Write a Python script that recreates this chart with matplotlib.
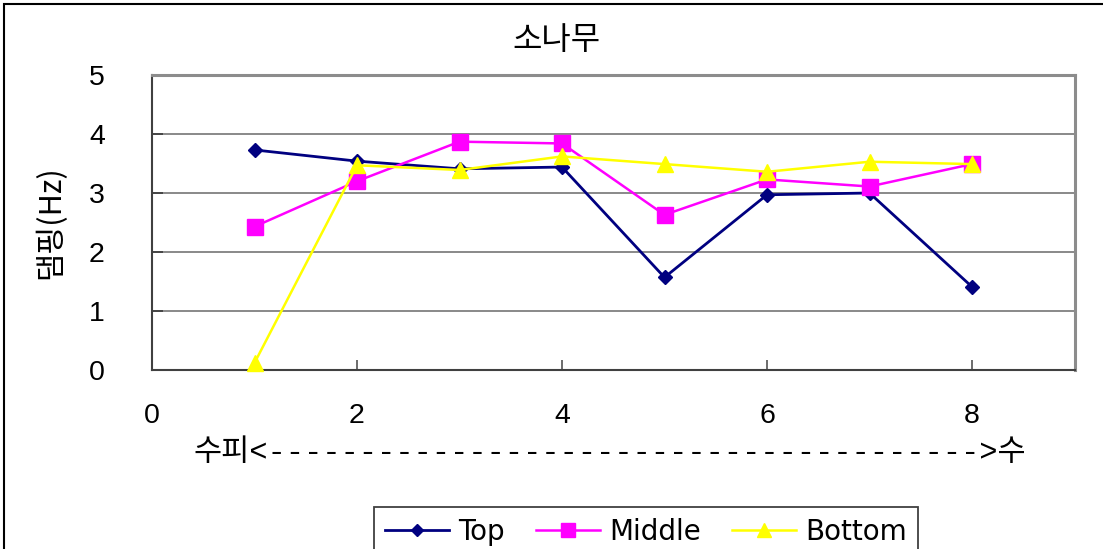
import matplotlib
matplotlib.use("Agg")
import matplotlib.pyplot as plt
from matplotlib.patches import Rectangle

plt.rcParams['font.family'] = ['Liberation Sans', 'Noto Sans CJK KR']

# Measurement positions (bark -> core) and damping values per height
positions = [1, 2, 3, 4, 5, 6, 7, 8]
top = [3.73, 3.54, 3.41, 3.44, 1.57, 2.97, 3.00, 1.41]
middle = [2.43, 3.20, 3.87, 3.84, 2.63, 3.23, 3.11, 3.49]
bottom = [0.12, 3.47, 3.39, 3.62, 3.49, 3.36, 3.53, 3.49]

series_names = ["Top", "Middle", "Bottom"]
x_ticks = [0, 2, 4, 6, 8]
y_ticks = [0, 1, 2, 3, 4, 5]

title = "소나무"
y_label = "댐핑(Hz)"
x_label = "수피<" + "-" * 39 + ">수"

W, H = 1103, 549
fig = plt.figure(figsize=(W / 100, H / 100), dpi=100)
fig.patch.set_facecolor("white")

# chart-area frame (runs off the right and bottom edges)
fig.add_artist(Rectangle((4 / W, -20 / H), 1.2, (H - 4 + 20) / H,
                         transform=fig.transFigure, fill=False,
                         edgecolor="#000000", linewidth=1.5, clip_on=False))

ax = fig.add_axes([152 / W, 1 - 370 / H, (1074.5 - 152) / W, (370 - 75) / H])
ax.set_xlim(0, 9)
ax.set_ylim(0, 5)
ax.set_xticks(x_ticks)
ax.set_yticks(y_ticks)

ax.yaxis.grid(True, color="#808080", linewidth=1.3)
ax.set_axisbelow(True)
for side in ("left", "bottom"):
    ax.spines[side].set_color("#404040")
    ax.spines[side].set_linewidth(1.5)
for side in ("top", "right"):
    ax.spines[side].set_color("#8c8c8c")
    ax.spines[side].set_linewidth(2.2)

ax.tick_params(axis="y", direction="in", length=8, width=1.3, color="#404040",
               labelsize=20.5, pad=34)
ax.tick_params(axis="x", direction="in", length=7, width=1.3, color="#606060",
               labelsize=20.5, pad=24)

l1, = ax.plot(positions, top, color="#000080", linewidth=2.0, marker="D",
              markersize=7.5, markerfacecolor="#000080", markeredgecolor="#000080",
              clip_on=False, zorder=3)
l2, = ax.plot(positions, middle, color="#FF00FF", linewidth=1.8, marker="s",
              markersize=11.5, markerfacecolor="#FF00FF", markeredgecolor="#FF00FF",
              clip_on=False, zorder=4)
l3, = ax.plot(positions, bottom, color="#FFFF00", linewidth=1.8, marker="^",
              markersize=11.5, markerfacecolor="#FFFF00", markeredgecolor="#FFFF00",
              clip_on=False, zorder=5)

fig.text(556 / W, 1 - 40 / H, title, ha="center", va="center", fontsize=23,
         family=["Noto Sans CJK KR", "DejaVu Sans"])
fig.text(51 / W, 1 - 222 / H, y_label, ha="center", va="center", fontsize=22,
         rotation=90, family=["Noto Sans CJK KR", "DejaVu Sans"])
fig.text(610 / W, 1 - 453 / H, x_label, ha="center", va="center", fontsize=22,
         family=["Liberation Mono", "Noto Sans CJK KR"])

leg = fig.legend([l1, l2, l3], series_names, loc="upper center",
                 bbox_to_anchor=(646 / W, 1 - 507 / H), ncol=3,
                 prop={"family": "DejaVu Sans", "size": 20},
                 frameon=True, fancybox=False, framealpha=1,
                 edgecolor="#404040", handlelength=2.3, handletextpad=0.35,
                 columnspacing=1.1, borderpad=0.4, borderaxespad=0)
leg.get_frame().set_linewidth(1.3)
for h in leg.legend_handles:
    h.set_markersize(h.get_markersize() * 0.85)

fig.savefig("out.png", dpi=100)
